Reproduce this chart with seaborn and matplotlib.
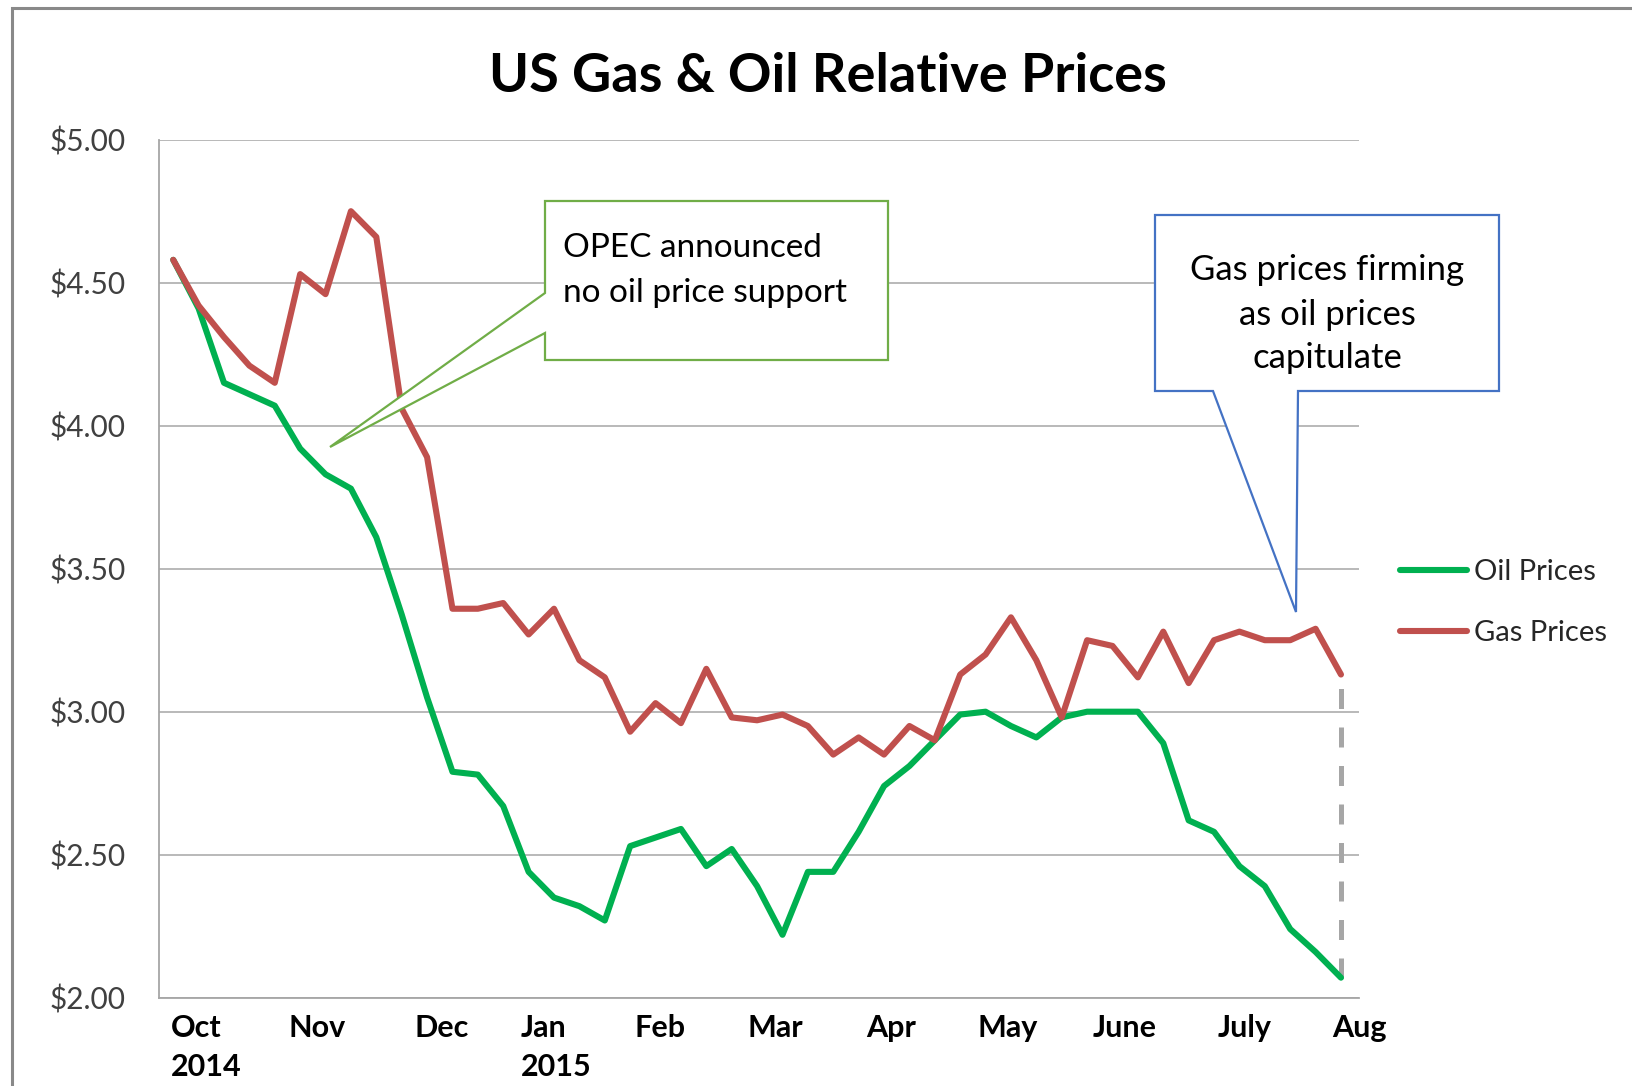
"""
US gas vs oil relative prices, weekly, Oct 2014 - Aug 2015.
"""

import matplotlib
matplotlib.use("Agg")
import matplotlib.pyplot as plt
from matplotlib.patches import Polygon, Rectangle
from matplotlib.ticker import StrMethodFormatter
import numpy as np
import pandas as pd
import seaborn as sns

# ── Data ───────────────────────────────────────────────────────────────────
oil_prices = [
    4.58, 4.41, 4.15, 4.11, 4.07, 3.92, 3.83, 3.78, 3.61, 3.34,
    3.05, 2.79, 2.78, 2.67, 2.44, 2.35, 2.32, 2.27, 2.53, 2.56,
    2.59, 2.46, 2.52, 2.39, 2.22, 2.44, 2.44, 2.58, 2.74, 2.81,
    2.90, 2.99, 3.00, 2.95, 2.91, 2.98, 3.00, 3.00, 3.00, 2.89,
    2.62, 2.58, 2.46, 2.39, 2.24, 2.16, 2.07,
]
gas_prices = [
    4.58, 4.42, 4.31, 4.21, 4.15, 4.53, 4.46, 4.75, 4.66, 4.06,
    3.89, 3.36, 3.36, 3.38, 3.27, 3.36, 3.18, 3.12, 2.93, 3.03,
    2.96, 3.15, 2.98, 2.97, 2.99, 2.95, 2.85, 2.91, 2.85, 2.95,
    2.90, 3.13, 3.20, 3.33, 3.18, 2.98, 3.25, 3.23, 3.12, 3.28,
    3.10, 3.25, 3.28, 3.25, 3.25, 3.29, 3.13,
]
week = np.arange(len(oil_prices))

month_labels = ["Oct\n2014", "Nov", "Dec", "Jan\n2015", "Feb", "Mar",
                "Apr", "May", "June", "July", "Aug"]
month_pos = [1.31, 5.65, 10.58, 15.08, 19.16, 23.71, 28.27, 32.86,
             37.48, 42.21, 46.71]

series_names = ["Oil Prices", "Gas Prices"]
series_colors = ["#00B050", "#C0504D"]

df = pd.concat([
    pd.DataFrame({"week": week, "price": oil_prices, "series": "Oil Prices"}),
    pd.DataFrame({"week": week, "price": gas_prices, "series": "Gas Prices"}),
])

# ── Styling ────────────────────────────────────────────────────────────────
sns.set_style("white")
plt.rcParams["font.family"] = ["Lato", "DejaVu Sans"]

W, H = 1633, 1086
GRID = "#A6A6A6"


def px(x, y):
    """Pixel position (top-left origin) -> figure fraction."""
    return x / W, 1 - y / H


fig = plt.figure(figsize=(W / 100, H / 100), dpi=100)
ax = fig.add_axes([159 / W, 1 - 997.7 / H, 1200 / W, 858 / H])

sns.lineplot(data=df, x="week", y="price", hue="series",
             hue_order=series_names, palette=series_colors,
             linewidth=4.4, ax=ax, sort=False, errorbar=None)

# drop line between the last two points
ax.vlines(week[-1], oil_prices[-1], gas_prices[-1], colors=GRID,
          linewidth=3.6, linestyles=(0, (4, 3.7)), zorder=1)

ax.set_ylim(2, 5)
ax.set_xlim(-0.56, 46.41)
ax.set_yticks(np.arange(2, 5.01, 0.5))
ax.yaxis.set_major_formatter(StrMethodFormatter("${x:,.2f}"))
ax.set_xticks(month_pos)
ax.set_xticklabels(month_labels, fontweight="bold", color="black",
                   linespacing=1.45, multialignment="left")
ax.set_xlabel("")
ax.set_ylabel("")

ax.grid(True, axis="y", color=GRID, linewidth=1.1)
ax.grid(False, axis="x")
for side in ["top", "right"]:
    ax.spines[side].set_visible(False)
for side in ["left", "bottom"]:
    ax.spines[side].set_color(GRID)
    ax.spines[side].set_linewidth(1.3)
ax.tick_params(axis="y", length=7.2, width=1.1, color=GRID,
               labelcolor="#404040", labelsize=21.5, pad=17)
ax.tick_params(axis="x", length=0, labelsize=22, pad=12)

leg = ax.legend(loc="upper left", bbox_to_anchor=px(1400, 559),
                bbox_transform=fig.transFigure, frameon=False, fontsize=21,
                handlelength=2.3, handletextpad=0.25, labelspacing=1.2,
                borderpad=0, borderaxespad=0)
for line in leg.get_lines():
    line.set_linewidth(4.4)

# ── Title, callouts, frame ────────────────────────────────────────────────
fig.text(*px(828, 92), "US Gas & Oil Relative Prices", ha="center",
         va="baseline", fontsize=39, fontweight="bold", color="black")

opec_box = [(545, 201), (888, 201), (888, 360), (545, 360), (545, 333),
            (330, 447), (545, 293)]
fig.patches.append(Polygon([px(x, y) for x, y in opec_box], closed=True,
                           transform=fig.transFigure, facecolor="white",
                           edgecolor="#70AD47", linewidth=1.6, zorder=5))
for txt, y in zip(["OPEC announced", "no oil price support"], [257, 302]):
    fig.text(*px(563, y), txt, ha="left", va="baseline", fontsize=24,
             color="black", zorder=6)

gas_box = [(1155, 215), (1499, 215), (1499, 391), (1298, 391), (1296, 612),
           (1213, 391), (1155, 391)]
fig.patches.append(Polygon([px(x, y) for x, y in gas_box], closed=True,
                           transform=fig.transFigure, facecolor="white",
                           edgecolor="#4472C4", linewidth=1.6, zorder=5))
for txt, y in zip(["Gas prices firming", "as oil prices", "capitulate"],
                  [280, 325, 368]):
    fig.text(*px(1327, y), txt, ha="center", va="baseline", fontsize=25,
             color="black", zorder=6)

fig.patches.append(Rectangle(px(12, 1200), (1700 - 12) / W, (1200 - 8) / H,
                             transform=fig.transFigure, fill=False,
                             edgecolor="#898989", linewidth=2.2))

fig.savefig("out.png", dpi=100)
plt.close(fig)
